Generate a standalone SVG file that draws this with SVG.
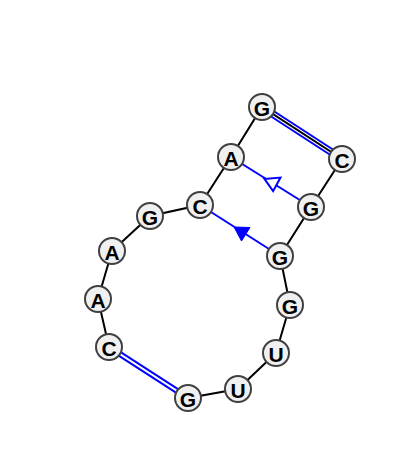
<svg xmlns="http://www.w3.org/2000/svg" width="400" height="467" viewBox="0 0 400 467">
<style>
.bb{stroke:#000;stroke-width:2;fill:none}
.bp{stroke:#0000ff;stroke-width:2;fill:none}
.nd circle{fill:#f0f0f0;stroke:#404040;stroke-width:2}
.nd text{font-family:"Liberation Sans",Arial,sans-serif;font-weight:bold;font-size:21px;fill:#000;text-anchor:middle;dominant-baseline:central}
</style>
<rect width="400" height="467" fill="#fff"/>
<g id="connectors">
<polyline class="bb" points="109,347 98,299 112,251 150,216 200,205 231,157 262,107 342,159 311,207 280,256 290,305 276,353 238,389 188,398"/>
<line class="bp" x1="263.6" y1="104.5" x2="343.6" y2="156.5"/>
<line class="bp" x1="260.4" y1="109.5" x2="340.4" y2="161.5"/>
<line class="bp" x1="110.2" y1="345.4" x2="189.2" y2="396.4"/>
<line class="bp" x1="107.8" y1="348.6" x2="186.8" y2="399.6"/>
<line class="bp" x1="231" y1="157" x2="311" y2="207"/>
<polygon points="264.4,178.9 280.5,177.6 273.1,191.2" fill="#fff" stroke="#0000ff" stroke-width="2"/>
<line class="bp" x1="200" y1="205" x2="280" y2="256"/>
<polygon points="234,227 250,227.5 241.5,241" fill="#0000ff" stroke="#0000ff" stroke-width="1"/>
</g>
<g id="n1" class="nd"><circle cx="109" cy="347" r="13"/><text x="109" y="348">C</text></g>
<g id="n2" class="nd"><circle cx="98" cy="299" r="13"/><text x="98" y="300">A</text></g>
<g id="n3" class="nd"><circle cx="112" cy="251" r="13"/><text x="112" y="252">A</text></g>
<g id="n4" class="nd"><circle cx="150" cy="216" r="13"/><text x="150" y="217">G</text></g>
<g id="n5" class="nd"><circle cx="200" cy="205" r="13"/><text x="200" y="206">C</text></g>
<g id="n6" class="nd"><circle cx="231" cy="157" r="13"/><text x="231" y="158">A</text></g>
<g id="n7" class="nd"><circle cx="262" cy="107" r="13"/><text x="262" y="108">G</text></g>
<g id="n8" class="nd"><circle cx="342" cy="159" r="13"/><text x="342" y="160">C</text></g>
<g id="n9" class="nd"><circle cx="311" cy="207" r="13"/><text x="311" y="208">G</text></g>
<g id="n10" class="nd"><circle cx="280" cy="256" r="13"/><text x="280" y="257">G</text></g>
<g id="n11" class="nd"><circle cx="290" cy="305" r="13"/><text x="290" y="306">G</text></g>
<g id="n12" class="nd"><circle cx="276" cy="353" r="13"/><text x="276" y="354">U</text></g>
<g id="n13" class="nd"><circle cx="238" cy="389" r="13"/><text x="238" y="390">U</text></g>
<g id="n14" class="nd"><circle cx="188" cy="398" r="13"/><text x="188" y="399">G</text></g>
</svg>
